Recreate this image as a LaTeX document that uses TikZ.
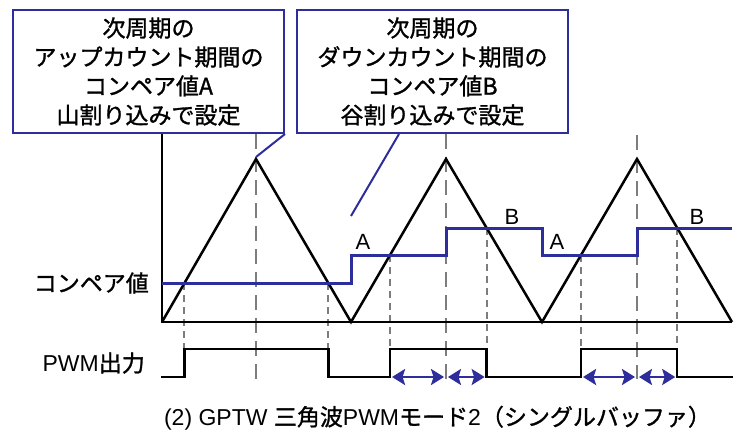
\documentclass[tikz,border=0pt]{standalone}
\usepackage{fontspec}
\setmainfont{Liberation Sans}
\newfontfamily\jp[FakeBold=1.2]{Noto Sans CJK JP}
\usetikzlibrary{arrows.meta,calc}
\definecolor{navy}{RGB}{45,45,155}
\definecolor{dgray}{RGB}{125,125,125}
\begin{document}
\begin{tikzpicture}[x=1pt,y=-1pt,
  callout/.style={draw=navy,line width=2pt,minimum width=271pt,minimum height=123pt,inner sep=0pt,align=center,font=\jp\fontsize{23}{29}\selectfont},
  ptr/.style={draw=navy,line width=2pt},
  tri/.style={draw=black,line width=2.5pt,line join=miter},
  axisline/.style={draw=black,line width=2pt},
  cmp/.style={draw=navy,line width=3pt},
  pwm/.style={draw=black,line width=2.5pt},
  ldash/.style={draw=dgray,line width=2pt,dash pattern=on 15pt off 8pt},
  sdash/.style={draw=dgray,line width=2pt,dash pattern=on 7pt off 5pt},
  dim/.style={draw=navy,line width=2.5pt,{Stealth[length=13pt,width=16pt,inset=2.5pt]}-{Stealth[length=13pt,width=16pt,inset=2.5pt]},shorten <=2pt,shorten >=2pt},
  lab/.style={inner sep=0pt,font=\fontsize{23}{27}\selectfont},
  ab/.style={inner sep=0pt,font=\fontsize{22}{26}\selectfont}
]
\useasboundingbox (0,0) rectangle (735,434);
% callout boxes
\node[callout] (box1) at (148.5,71.5) {次周期の\\アップカウント期間の\\コンペア値A\\山割り込みで設定};
\node[callout] (box2) at (432.5,71.5) {次周期の\\ダウンカウント期間の\\コンペア値B\\谷割り込みで設定};
% triangle wave key points
\coordinate (v0) at (162,322);
\coordinate (p1) at (256,159);
\coordinate (v1) at (351,322);
\coordinate (p2) at (446,159);
\coordinate (v2) at (542,322);
\coordinate (p3) at (637,159);
\coordinate (v3) at (732,322);
% levels
\coordinate (l1) at (0,283);
\coordinate (lA) at (0,255);
\coordinate (lB) at (0,228);
\coordinate (hi) at (0,349);
\coordinate (lo) at (0,377);
\coordinate (bot) at (0,379);
% crossings
\coordinate (c1) at ($(v0)!0.2393!(p1)$);
\coordinate (c2) at ($(v1)!0.2393!(p1)$);
\coordinate (c3) at ($(v1)!0.411!(p2)$);
\coordinate (c4) at ($(v2)!0.5767!(p2)$);
\coordinate (c5) at ($(v2)!0.411!(p3)$);
\coordinate (c6) at ($(v3)!0.5767!(p3)$);
% dashed guides
\draw[ldash] (p1|-box1.south) -- (p1|-bot);
\draw[ldash] (p2|-box2.south) -- (p2|-bot);
\coordinate (t3) at (637,135);
\draw[ldash] (t3) -- (p3|-bot);
\foreach \c in {c1,c2,c3,c4,c5,c6} \draw[sdash] (\c) -- (\c|-hi);
% axes
\draw[axisline] (box1.south -| v0) -- (v0) -- (v3);
% triangle
\draw[tri] (v0) -- (p1) -- (v1) -- (p2) -- (v2) -- (p3) -- (v3);
% compare value
\draw[cmp] (v0|-l1) -- (v1|-l1) -- (v1|-lA) -- (p2|-lA) -- (p2|-lB) -- (v2|-lB) -- (v2|-lA) -- (p3|-lA) -- (p3|-lB) -- (v3|-lB);
% pointers
\coordinate (e1) at ($(p1)+(0,-2)$);
\draw[ptr] (box1.south east) -- (e1);
\coordinate (s2) at ($(box2.south west)+(103,0)$);
\coordinate (e2) at (351,216);
\draw[ptr] (s2) -- (e2);
% PWM output
\coordinate (pw0) at (161,377);
\coordinate (pw1) at (733,377);
\draw[pwm] (pw0) -- (c1|-lo) -- (c1|-hi) -- (c2|-hi) -- (c2|-lo) -- (c3|-lo) -- (c3|-hi) -- (c4|-hi) -- (c4|-lo) -- (c5|-lo) -- (c5|-hi) -- (c6|-hi) -- (c6|-lo) -- (pw1);
% dimension arrows
\draw[dim] (c3|-lo) -- (p2|-lo);
\draw[dim] (p2|-lo) -- (c4|-lo);
\draw[dim] (c5|-lo) -- (p3|-lo);
\draw[dim] (p3|-lo) -- (c6|-lo);
% labels
\node[ab] (la1) at (363,242) {A};
\node[ab] (lb1) at (512,217) {B};
\node[ab] (la2) at (557,242) {A};
\node[ab] (lb2) at (697,217) {B};
\node[lab,anchor=east] (cmpl) at (149,283) {\jp コンペア値};
\node[lab,anchor=east] (pwml) at (145,363) {PWM{\jp 出力}};
\node[lab] (cap) at (437.5,418) {(2) GPTW {\jp 三角波}PWM{\jp モード}2{\jp （シングルバッファ）}};
\end{tikzpicture}
\end{document}
